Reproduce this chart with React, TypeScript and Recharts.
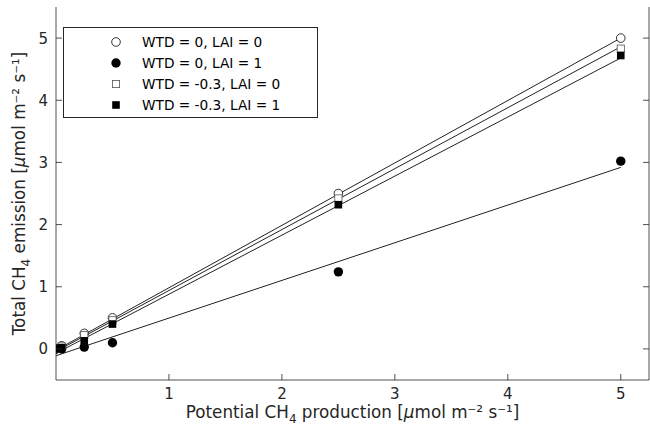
import React from 'react';
import { ComposedChart, Scatter, Line, XAxis, YAxis } from 'recharts';

const xValues = [0, 0.05, 0.25, 0.5, 2.5, 5];
const wtd0Lai0 = [0, 0.05, 0.25, 0.5, 2.5, 5.0];
const wtd0Lai1 = [0, 0.0, 0.03, 0.1, 1.24, 3.02];
const wtd03Lai0 = [0, 0.04, 0.22, 0.46, 2.42, 4.83];
const wtd03Lai1 = [0, 0.02, 0.13, 0.4, 2.32, 4.72];

// fitted lines, read at the two ends of the data range
const fitX = [0, 5];
const fitWtd0Lai0 = [-0.02, 5.0];
const fitWtd0Lai1 = [-0.11, 2.92];
const fitWtd03Lai0 = [-0.04, 4.86];
const fitWtd03Lai1 = [-0.07, 4.68];

const xTicks = [1, 2, 3, 4, 5];
const yTicks = [0, 1, 2, 3, 4, 5];

const legendNames = ['WTD = 0, LAI = 0', 'WTD = 0, LAI = 1', 'WTD = -0.3, LAI = 0', 'WTD = -0.3, LAI = 1'];
const markerKinds = ['openCircle', 'filledCircle', 'openSquare', 'filledSquare'];

const toPoints = (xs: number[], ys: number[]) => xs.map((x, i) => ({ x, y: ys[i] }));

const FONT = 'DejaVu Sans, sans-serif';
const INK = '#262626';

const drawMarker = (kind: string, cx: number, cy: number) => {
  if (kind === 'openCircle') return <circle cx={cx} cy={cy} r={4.3} fill="#fff" stroke="#000" strokeWidth={0.8} />;
  if (kind === 'filledCircle') return <circle cx={cx} cy={cy} r={4.7} fill="#000" />;
  if (kind === 'openSquare') return <rect x={cx - 3.6} y={cy - 3.6} width={7.2} height={7.2} fill="#fff" stroke="#555" strokeWidth={0.8} />;
  return <rect x={cx - 3.8} y={cy - 3.8} width={7.6} height={7.6} fill="#000" />;
};

const shapeFor = (kind: string) => (props: any) => <g>{drawMarker(kind, props.cx, props.cy)}</g>;

const BottomTick = (props: any) => {
  const { x, y, payload } = props;
  return (
    <g>
      <line x1={x} x2={x} y1={y} y2={y - 6} stroke={INK} strokeWidth={0.8} />
      <text x={x} y={y + 19} textAnchor="middle" fontSize={15} fill={INK} fontFamily={FONT}>{payload.value}</text>
    </g>
  );
};

const TopTick = (props: any) => {
  const { x, y } = props;
  return <line x1={x} x2={x} y1={y} y2={y + 6} stroke={INK} strokeWidth={0.8} />;
};

const LeftTick = (props: any) => {
  const { x, y, payload } = props;
  return (
    <g>
      <line x1={x} x2={x + 6} y1={y} y2={y} stroke={INK} strokeWidth={0.8} />
      <text x={x - 8} y={y + 5.5} textAnchor="end" fontSize={15} fill={INK} fontFamily={FONT}>{payload.value}</text>
    </g>
  );
};

const RightTick = (props: any) => {
  const { x, y } = props;
  return <line x1={x} x2={x - 6} y1={y} y2={y} stroke={INK} strokeWidth={0.8} />;
};

const XTitle = (props: any) => {
  const vb = props.viewBox;
  const cx = vb.x + vb.width / 2;
  return (
    <text x={cx} y={vb.y + 38} textAnchor="middle" fontSize={16.8} fill={INK} fontFamily={FONT}>
      Potential CH<tspan fontSize={12} dy={5}>4</tspan>
      <tspan dy={-5}> production [</tspan><tspan fontStyle="italic">μ</tspan>mol m⁻² s⁻¹]
    </text>
  );
};

const YTitle = (props: any) => {
  const vb = props.viewBox;
  const cy = vb.y + vb.height / 2;
  return (
    <text x={0} y={0} transform={`translate(25, ${cy}) rotate(-90)`} textAnchor="middle" fontSize={16.8} fill={INK} fontFamily={FONT}>
      Total CH<tspan fontSize={12} dy={5}>4</tspan>
      <tspan dy={-5}> emission [</tspan><tspan fontStyle="italic">μ</tspan>mol m⁻² s⁻¹]
    </text>
  );
};

const LegendBox = () => (
  <div style={{ position: 'absolute', left: 63, top: 27, width: 255, height: 91, border: '1px solid #262626', background: '#fff', fontFamily: FONT, fontSize: 13.7, color: '#000', boxSizing: 'border-box', paddingTop: 4 }}>
    {legendNames.map((name, i) => (
      <div key={i} style={{ display: 'flex', alignItems: 'center', height: 20.8 }}>
        <svg width={78} height={20}>{drawMarker(markerKinds[i], 52, 10)}</svg>
        <span>{name}</span>
      </div>
    ))}
  </div>
);

const seriesList = [wtd0Lai0, wtd0Lai1, wtd03Lai0, wtd03Lai1];
const fitList = [fitWtd0Lai0, fitWtd0Lai1, fitWtd03Lai0, fitWtd03Lai1];

export default function App() {
  return (
    <div style={{ position: 'absolute', left: 0, top: 0, width: 650, height: 430, background: '#fff' }}>
      <ComposedChart width={650} height={430} margin={{ top: 7, right: 0, bottom: 0, left: 0 }}>
        <XAxis xAxisId="b" dataKey="x" type="number" domain={[0, 5.25]} ticks={xTicks} allowDataOverflow
          orientation="bottom" height={50} tickSize={0} tickMargin={0} tickLine={false} tick={<BottomTick />}
          axisLine={{ stroke: INK, strokeWidth: 0.8 }} label={<XTitle />} interval={0} />
        <XAxis xAxisId="t" dataKey="x" type="number" domain={[0, 5.25]} ticks={xTicks} allowDataOverflow
          orientation="top" height={0} tickSize={0} tickMargin={0} tickLine={false} tick={<TopTick />}
          axisLine={{ stroke: INK, strokeWidth: 0.8 }} interval={0} />
        <YAxis yAxisId="l" dataKey="y" type="number" domain={[-0.5, 5.5]} ticks={yTicks} allowDataOverflow
          orientation="left" width={56} tickSize={0} tickMargin={0} tickLine={false} tick={<LeftTick />}
          axisLine={{ stroke: INK, strokeWidth: 0.8 }} label={<YTitle />} interval={0} />
        <YAxis yAxisId="r" dataKey="y" type="number" domain={[-0.5, 5.5]} ticks={yTicks} allowDataOverflow
          orientation="right" width={1} tickSize={0} tickMargin={0} tickLine={false} tick={<RightTick />}
          axisLine={{ stroke: INK, strokeWidth: 0.8 }} interval={0} />
        {fitList.map((fit, i) => (
          <Line key={'f' + i} xAxisId="b" yAxisId="l" data={toPoints(fitX, fit)} dataKey="y" stroke="#222"
            strokeWidth={1} dot={false} isAnimationActive={false} legendType="none" />
        ))}
        {seriesList.map((ys, i) => (
          <Scatter key={'s' + i} xAxisId="b" yAxisId="l" name={legendNames[i]} data={toPoints(xValues, ys)}
            dataKey="y" shape={shapeFor(markerKinds[i])} isAnimationActive={false} />
        ))}
      </ComposedChart>
      <LegendBox />
    </div>
  );
}
